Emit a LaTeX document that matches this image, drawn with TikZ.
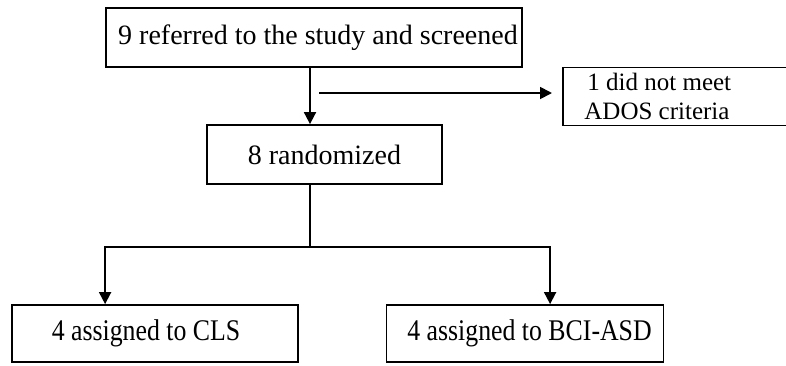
\documentclass[tikz,border=0pt]{standalone}
\usepackage{fontspec}
\setmainfont{Liberation Serif}
\usetikzlibrary{arrows.meta}
\begin{document}
\begin{tikzpicture}[x=1pt,y=-1pt,
  box/.style={draw,line width=1.8pt,rectangle,inner sep=0pt,font=\fontsize{28}{32}\selectfont},
  arr/.style={line width=1.8pt,-{Triangle[length=12pt,width=12pt]}},
  ln/.style={line width=1.8pt}]
\useasboundingbox (0,0) rectangle (786,365);
\node[box,minimum width=416pt,minimum height=59pt] (a) at (314,37.5) {\hspace*{8pt}9 referred to the study and screened};
\node[box,minimum width=235pt,minimum height=59pt] (b) at (324.5,154.5) {8 randomized};
\node[box,minimum width=230pt,minimum height=58pt,anchor=north west,align=left,font=\fontsize{25}{29}\selectfont] (c) at (562,66.5) {\hspace*{-3pt}\makebox[200pt][l]{\hspace*{11pt}1 did not meet}\\\hspace*{5pt}ADOS criteria};
\node[box,minimum width=286pt,minimum height=57pt,font=\fontsize{30}{34}\selectfont] (d) at (155,333.5) {\hspace*{-18pt}\scalebox{0.86}[1]{4 assigned to CLS}};
\node[box,minimum width=277pt,minimum height=57pt,font=\fontsize{30}{34}\selectfont] (e) at (525,333.5) {\hspace*{9pt}\scalebox{0.86}[1]{4 assigned to BCI-ASD}};
\coordinate (s) at (319,93);
\coordinate (j) at (310,247);
\draw[arr] (a.south -| j) -- (b.north -| j);
\draw[arr] (s) -- ([xshift=-10pt]c.west |- s);
\draw[ln] (b.south -| j) -- (j);
\draw[arr] (j) -| ([xshift=94pt]d.north west);
\draw[arr] (j) -| ([xshift=164.5pt]e.north west);
\end{tikzpicture}
\end{document}
